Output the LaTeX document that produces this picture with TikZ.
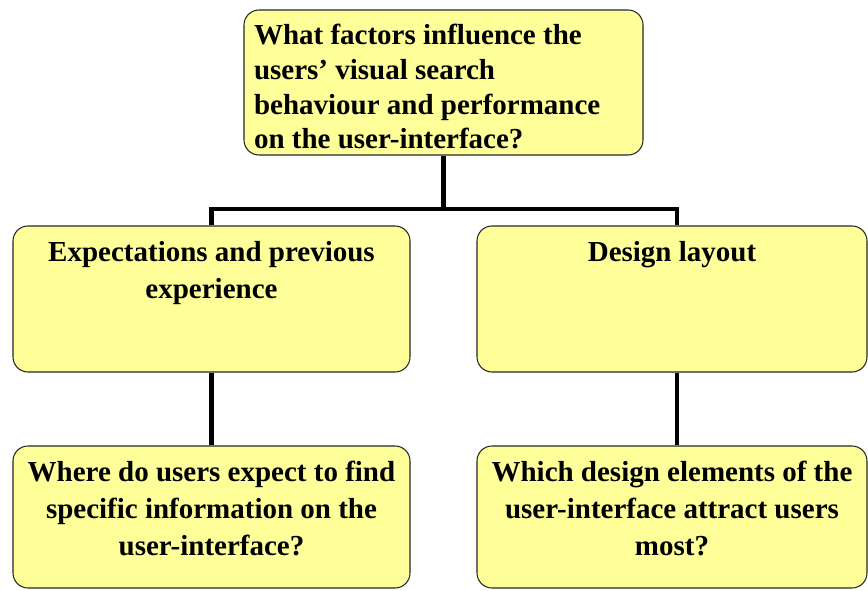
\documentclass[tikz,border=0pt]{standalone}
\usepackage{fontspec}
\setmainfont{Liberation Serif}
\usepackage{tikz}
\usetikzlibrary{positioning, calc}
\definecolor{boxyellow}{HTML}{FFFF99}
% box text: width, height, alignment, text (top aligned)
\newcommand{\qtext}[4]{\parbox[c][#2][t]{#1}{#3#4}}

\begin{document}
\begin{tikzpicture}[
  qbox/.style={draw=black!85, line width=0.6pt, fill=boxyellow, rounded corners=0.3cm,
    inner xsep=0.2cm, inner ysep=0.3cm, font=\bfseries\fontsize{16.5}{21}\selectfont},
  link/.style={line width=2.3pt}
]
  \useasboundingbox (0,0) rectangle (17.36,11.8);

  % main question
  \node[qbox, inner ysep=0.28cm, font=\bfseries\fontsize{16.5}{19.8}\selectfont] (quest) at (8.87,10.15)
    {\qtext{7.58cm}{2.34cm}{\raggedright}{What factors influence the\\ users' visual search\\ behaviour and performance\\ on the user-interface?}};

  % factors
  \node[qbox] (expect) at (4.23,5.82) {\qtext{7.54cm}{2.32cm}{\centering}{Expectations and previous\\ experience}};
  \node[qbox] (layout) at (13.44,5.82) {\qtext{7.4cm}{2.32cm}{\centering}{Design layout}};

  % sub-questions
  \node[qbox] (where) at (4.23,1.46) {\qtext{7.54cm}{2.24cm}{\centering}{Where do users expect to find\\ specific information on the\\ user-interface?}};
  \node[qbox] (which) at (13.44,1.46) {\qtext{7.4cm}{2.24cm}{\centering}{Which design elements of the\\ user-interface attract users\\ most?}};

  % connectors
  \coordinate (bar) at (0,7.62);
  \draw[link] (quest.south) -- (quest.south |- bar);
  \draw[link] (expect.north) -- (expect.north |- bar) -- ([xshift=0.1cm]layout.north |- bar) -- ([xshift=0.1cm]layout.north);
  \draw[link] (expect.south) -- (where.north);
  \draw[link] ([xshift=0.1cm]layout.south) -- ([xshift=0.1cm]which.north);
\end{tikzpicture}
\end{document}
